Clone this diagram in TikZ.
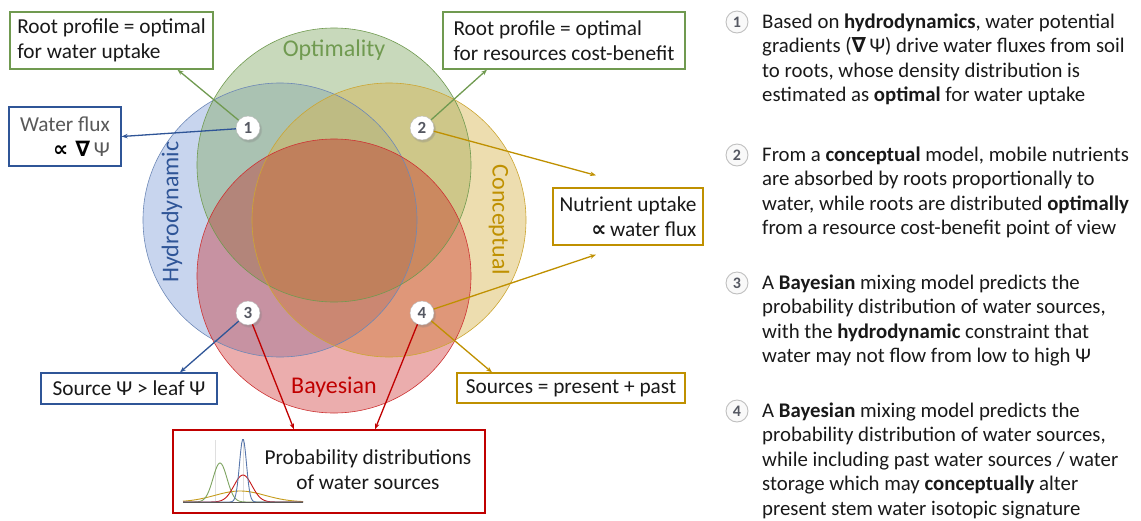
\documentclass[tikz,border=0pt]{standalone}
\usepackage{fontspec}
\setmainfont{Carlito}
\newfontfamily\symfont{DejaVu Sans}
\usepackage{xcolor}
\usepackage{tikz}
\usetikzlibrary{arrows.meta,positioning,shadows}
\definecolor{optgreen}{RGB}{133,170,105}
\definecolor{hydblue}{RGB}{133,162,217}
\definecolor{conyellow}{RGB}{215,179,77}
\definecolor{bayred}{RGB}{198,21,21}
\definecolor{linegreen}{RGB}{112,154,80}
\definecolor{lineblue}{RGB}{47,85,151}
\definecolor{lineyellow}{RGB}{191,144,0}
\definecolor{linered}{RGB}{192,0,0}
\definecolor{numgray}{RGB}{85,88,98}
\newcommand{\boxfont}{\fontsize{21.3}{25}\selectfont}
\newcommand{\listfont}{\fontsize{20.8}{24.5}\selectfont}
\newcommand{\setfont}{\fontsize{24}{24}\selectfont}

\begin{document}
\begin{tikzpicture}[x=1pt,y=-1pt,
  setcirc/.style={fill opacity=0.45,line width=0.6pt},
  setname/.style={font=\setfont,inner sep=0pt},
  lblbox/.style={draw,line width=1.3pt,fill=white,inner sep=0pt,font=\boxfont,text=black!90},
  num/.style={circle,draw=gray!55,fill=white,minimum size=24pt,inner sep=0pt,
    font=\bfseries\fontsize{17}{17}\selectfont,text=numgray,
    circular drop shadow={shadow xshift=1pt,shadow yshift=-1.5pt,opacity=0.35}},
  bullet/.style={circle,draw=gray!50,line width=0.9pt,fill=gray!5,minimum size=22pt,inner sep=0pt,
    font=\bfseries\fontsize{16}{16}\selectfont,text=numgray},
  item/.style={anchor=north west,align=left,inner sep=0pt,font=\listfont,text=black!90},
  >={Stealth[length=6pt,width=4.5pt]}]
\useasboundingbox (0,0) rectangle (1141,520);

\fill[hydblue,setcirc] (280,220) circle (137);
\fill[optgreen,setcirc] (334,165) circle (137);
\fill[conyellow,setcirc] (389,220) circle (137);
\fill[bayred,setcirc,fill opacity=0.35] (334,276) circle (137);
\draw[lineblue!70,line width=0.6pt] (280,220) circle (137);
\draw[linegreen,line width=0.6pt] (334,165) circle (137);
\draw[lineyellow!80,line width=0.6pt] (389,220) circle (137);
\draw[linered!80,line width=0.6pt] (334,276) circle (137);

\node[setname,text=linegreen] (opt) at (334,50) {Optimality};
\node[setname,text=lineblue,rotate=90] (hyd) at (172,212) {Hydrodynamic};
\node[setname,text=lineyellow,rotate=-90] (con) at (499,220) {Conceptual};
\node[setname,text=linered] (bay) at (334,387) {Bayesian};

\node[lblbox,draw=linegreen,minimum width=203pt,minimum height=57pt,align=left] (rootA) at (111.5,40.5) {Root profile = optimal\\for water uptake};
\node[lblbox,draw=linegreen,minimum width=242pt,minimum height=57pt,align=left] (rootB) at (564,40.5) {Root profile = optimal\\for resources cost-benefit};
\node[lblbox,draw=lineblue,minimum width=112pt,minimum height=59pt,align=right,text=black!65] (flux) at (65,136.5) {Water flux\\{\symfont\bfseries\color{black}∝\,\,∇}\,Ψ};
\node[lblbox,draw=lineyellow,minimum width=150pt,minimum height=57pt,align=right] (nutr) at (628,216.5) {Nutrient uptake\\{\symfont\bfseries ∝}\,water flux};
\node[lblbox,draw=lineblue,minimum width=176pt,minimum height=31pt] (leaf) at (129,388.5) {Source Ψ > leaf Ψ};
\node[lblbox,draw=lineyellow,minimum width=228pt,minimum height=30pt] (past) at (571,388) {Sources = present + past};
\node[lblbox,draw=linered,minimum width=312pt,minimum height=83pt] (prob) at (329,471.5) {};
\node[font=\boxfont,align=center,text=black!90] (probtxt) at (368,470) {Probability distributions\\of water sources};

\draw[gray!25,line width=0.4pt] (215,440) -- (215,502);
\draw[gray!25,line width=0.4pt] (243,440) -- (243,502);
\draw[lineyellow!90,line width=0.9pt] plot[domain=183:303,samples=80] (\x,{502-11*exp(-(\x-240)*(\x-240)/(2*25*25))});
\draw[linegreen!90,line width=0.9pt] plot[domain=183:303,samples=100] (\x,{502-39*exp(-(\x-220)*(\x-220)/(2*7*7))});
\draw[linered!90,line width=0.9pt] plot[domain=183:303,samples=100] (\x,{502-27*exp(-(\x-243)*(\x-243)/(2*9*9))});
\draw[lineblue!80,line width=0.9pt] plot[domain=183:303,samples=140] (\x,{502-63*exp(-(\x-243)*(\x-243)/(2*3.5*3.5))});
\draw[gray!70!black,line width=0.8pt] (183,502) -- (303,502);

\node[num] (n1) at (248,128) {1};
\node[num] (n2) at (422,128) {2};
\node[num] (n3) at (248,313) {3};
\node[num] (n4) at (422,313) {4};

\coordinate (nutrA) at ([xshift=-32pt,yshift=12pt]nutr.north);
\coordinate (nutrB) at ([xshift=-32pt,yshift=-9pt]nutr.south);

\draw[->,line width=1.3pt,color=linegreen] (n1)--([xshift=66pt]rootA.south);
\draw[->,line width=1.3pt,color=lineblue] (n1)--(flux.east);
\draw[->,line width=1.3pt,color=linegreen] (n2)--([xshift=-77pt]rootB.south);
\draw[->,line width=1.3pt,color=lineyellow] (n2)--(nutrA);
\draw[->,line width=1.3pt,color=lineyellow] (n4)--(nutrB);
\draw[->,line width=1.3pt,color=lineyellow] (n4)--([xshift=-79pt]past.north);
\draw[->,line width=1.3pt,color=lineblue] (n3)--([xshift=51pt]leaf.north);
\draw[->,line width=1.3pt,color=linered] (n3)--([xshift=-35pt]prob.north);
\draw[->,line width=1.3pt,color=linered] (n4)--([xshift=46pt]prob.north);

\node[bullet] (b1) at (737,22) {1};
\node[bullet] (b2) at (737,155) {2};
\node[bullet] (b3) at (737,283) {3};
\node[bullet] (b4) at (737,411) {4};

\node[item] (t1) at (762,13.5) {Based on \textbf{hydrodynamics}, water potential\\gradients ({\symfont\bfseries ∇}\,Ψ) drive water fluxes from soil\\to roots, whose density distribution is\\estimated as \textbf{optimal} for water uptake};
\node[item] (t2) at (762,146.5) {From a \textbf{conceptual} model, mobile nutrients\\are absorbed by roots proportionally to\\water, while roots are distributed \textbf{optimally}\\from a resource cost-benefit point of view};
\node[item] (t3) at (762,274.5) {A \textbf{Bayesian} mixing model predicts the\\probability distribution of water sources,\\with the \textbf{hydrodynamic} constraint that\\water may not flow from low to high Ψ};
\node[item] (t4) at (762,402.5) {A \textbf{Bayesian} mixing model predicts the\\probability distribution of water sources,\\while including past water sources / water\\storage which may \textbf{conceptually} alter\\present stem water isotopic signature};
\end{tikzpicture}
\end{document}
